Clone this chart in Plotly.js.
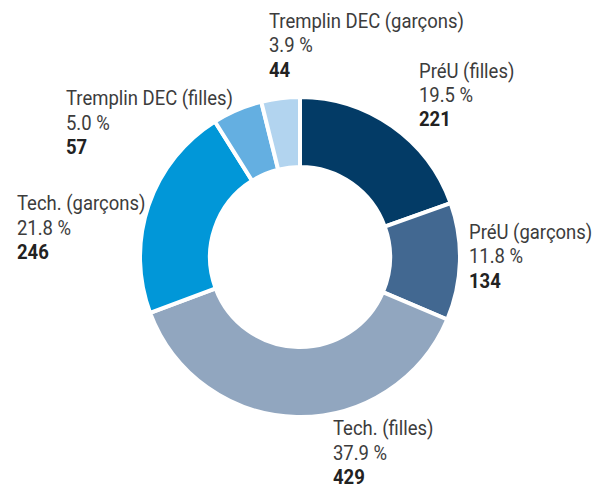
<!DOCTYPE html>
<html><head><meta charset="utf-8">
<script src="https://cdn.plot.ly/plotly-3.0.1.min.js"></script>
<style>html,body{margin:0;padding:0;background:#fff;}#chart{width:592px;height:484px;}</style>
</head><body><div id="chart"></div>
<script>
const categories = ["PréU (filles)", "PréU (garçons)", "Tech. (filles)", "Tech. (garçons)", "Tremplin DEC (filles)", "Tremplin DEC (garçons)"];
const values = [221, 134, 429, 246, 57, 44];
const colors = ["#033b66", "#426891", "#91a6bf", "#0197d8", "#64afe1", "#b2d4ef"];
// label anchor positions (pixels: left edge, centre of first line)
const labelX = [417, 467, 331, 15, 64, 267];
const labelY = [70.5, 231.5, 428, 203, 98, 20.5];

const W = 592, H = 484;
const LINE = 24.5;
const total = values.reduce((a, b) => a + b, 0);
const FONT = "Roboto, 'Liberation Sans', sans-serif";

const annotations = [];
categories.forEach((c, i) => {
  const lines = [c, (values[i] / total * 100).toFixed(1) + ' %', '<b>' + values[i] + '</b>'];
  lines.forEach((t, k) => {
    annotations.push({
      xref: 'paper', yref: 'paper',
      x: labelX[i] / W, y: 1 - (labelY[i] + k * LINE) / H,
      xanchor: 'left', yanchor: 'middle', align: 'left',
      showarrow: false,
      text: t,
      font: {family: FONT, size: 21, color: k === 2 ? '#222222' : '#3c3c3c'}
    });
  });
});

const cx = 300, cy = 257, R = 160;
Plotly.newPlot('chart', [{
  type: 'pie',
  labels: categories,
  values: values,
  sort: false,
  direction: 'clockwise',
  rotation: 0,
  hole: 0.5625,
  textinfo: 'none',
  hoverinfo: 'none',
  marker: {colors: colors, line: {color: '#ffffff', width: 4}},
  domain: {x: [(cx - R) / W, (cx + R) / W], y: [1 - (cy + R) / H, 1 - (cy - R) / H]}
}], {
  width: W, height: H,
  margin: {l: 0, r: 0, t: 0, b: 0},
  showlegend: false,
  paper_bgcolor: '#ffffff',
  annotations: annotations,
  font: {family: FONT}
}, {displayModeBar: false, staticPlot: true}).then(() => {
  // condense label text horizontally about its left edge (the reference uses a condensed face)
  const S = 0.88;
  document.querySelectorAll('#chart .annotation-text-g text').forEach(el => {
    const bb = el.getBBox();
    const x0 = bb.x;
    const prev = el.getAttribute('transform') || '';
    el.setAttribute('transform', prev + ' translate(' + x0 + ',0) scale(' + S + ',1) translate(' + (-x0) + ',0)');
  });
});
</script></body></html>
